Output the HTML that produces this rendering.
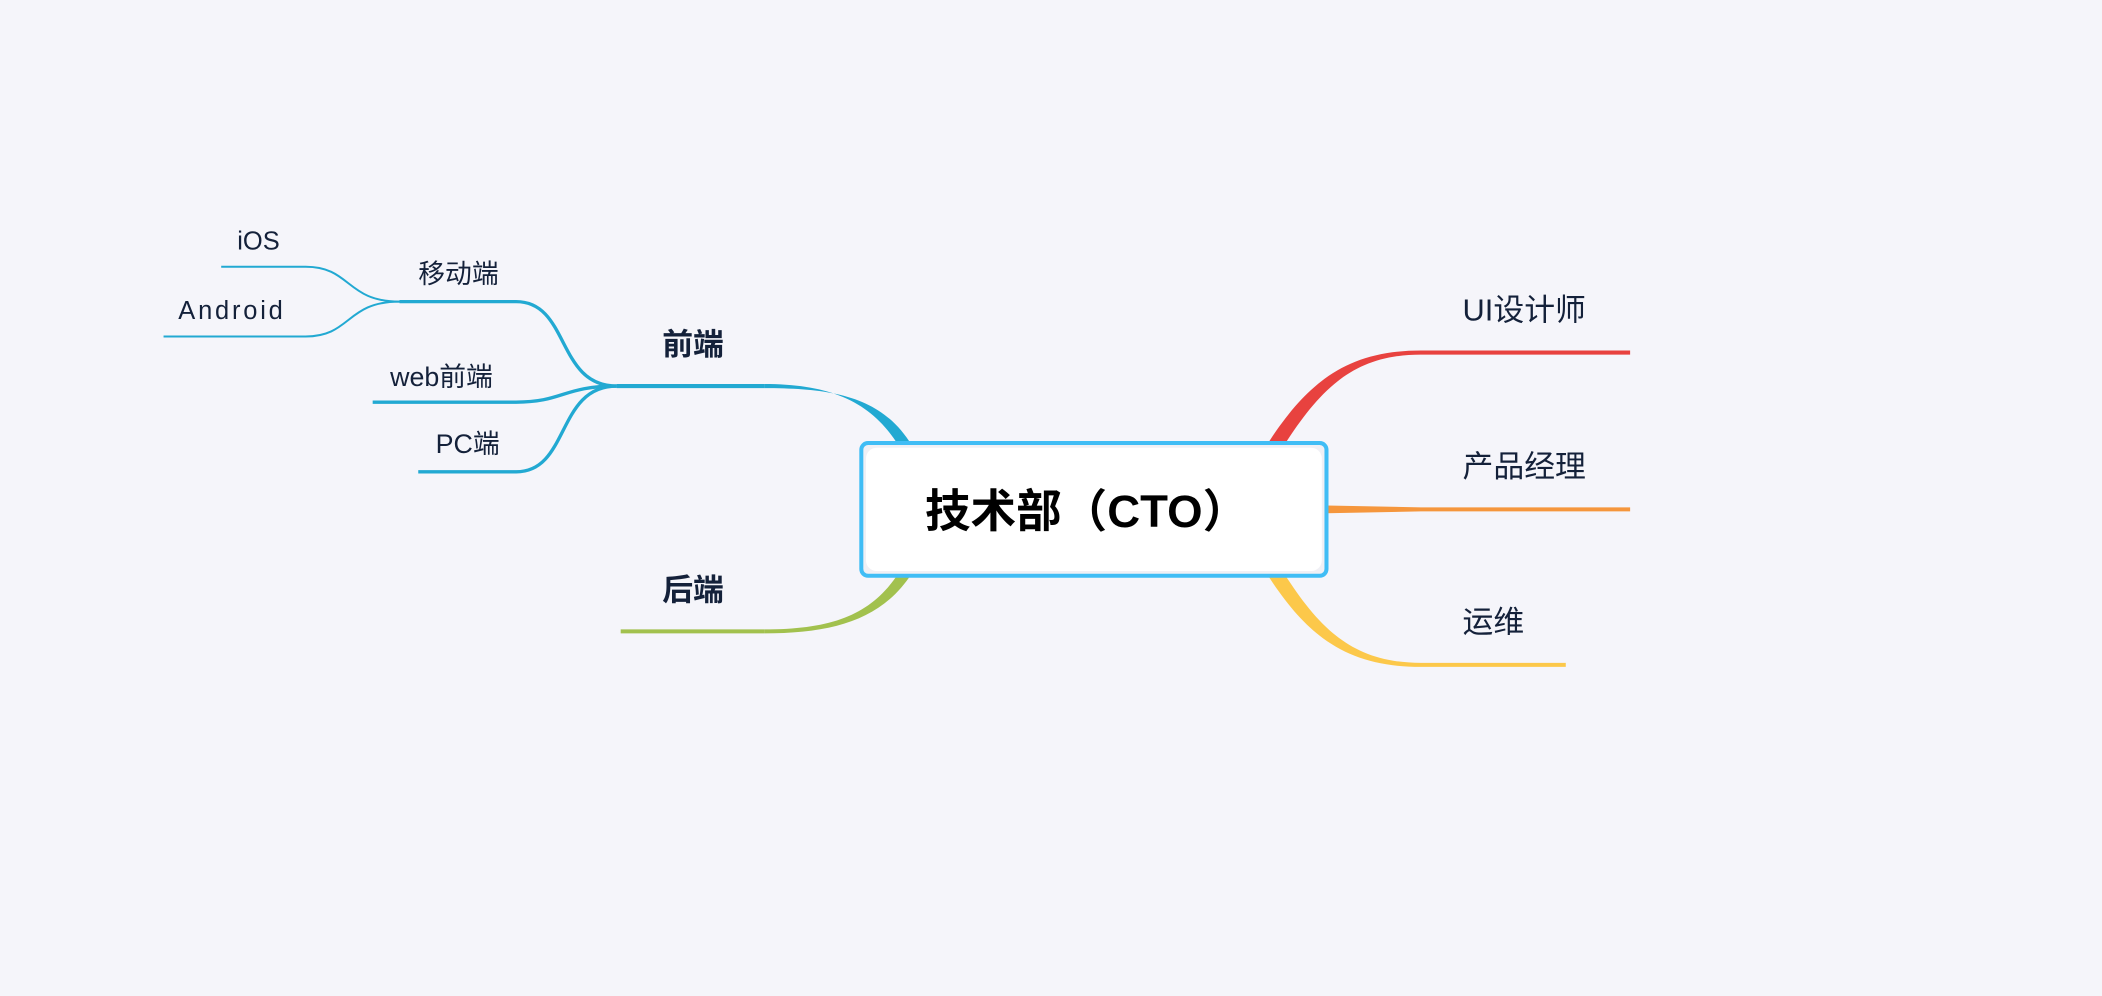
<!DOCTYPE html>
<html><head><meta charset="utf-8"><style>
html,body{margin:0;padding:0;background:#f5f5fa;}
svg{display:block;}
text{font-family:"Liberation Sans","Noto Sans CJK SC",sans-serif;fill:#14213a;}
</style></head><body>
<svg width="2102" height="996" viewBox="0 0 1568 743" preserveAspectRatio="none" xmlns="http://www.w3.org/2000/svg">
<rect width="1568" height="743" fill="#f5f5fa"/>
<g fill="none" stroke="#22a9d2" stroke-linecap="butt">
  <path d="M165,199 H228 C262,199 258,225 298,225" stroke-width="1.5"/>
  <path d="M122,251 H228 C262,251 258,225 298,225" stroke-width="1.5"/>
  <path d="M298,225 H385 C425,225 415,288 460,288" stroke-width="2.5"/>
  <path d="M278,300 H385 C420,300 420,288 460,288" stroke-width="2.5"/>
  <path d="M312,352 H385 C425,352 415,288 460,288" stroke-width="2.5"/>
  <path d="M460,288 H570" stroke-width="3"/>
</g>
<path d="M570,286.5 C620,286.5 650,300 670,332 L680,332 C658,296 622,289.5 570,289.5 Z" fill="#22a9d2"/>
<path d="M463,471 H570" stroke="#a2c14e" stroke-width="3" fill="none"/>
<path d="M570,469.5 C622,469.5 650,458 670,428 L680,428 C658,462 622,472.5 570,472.5 Z" fill="#a2c14e"/>
<path d="M1060,263 H1216" stroke="#e8423f" stroke-width="3" fill="none"/>
<path d="M1060,261.5 C1005,261.5 975,285 945,332 L958,332 C985,290 1010,264.5 1060,264.5 Z" fill="#e8423f"/>
<path d="M1060,380 H1216" stroke="#f5963c" stroke-width="3" fill="none"/>
<path d="M985,377 L1060,378.5 L1060,381.5 L985,383 Z" fill="#f5963c"/>
<path d="M1060,496 H1168" stroke="#fcc84a" stroke-width="3" fill="none"/>
<path d="M1060,497.5 C1005,497.5 975,475 945,428 L958,428 C985,470 1010,494.5 1060,494.5 Z" fill="#fcc84a"/>
<rect x="642.5" y="330.5" width="347" height="99" rx="5" fill="#f0f0f5" stroke="#40bdf5" stroke-width="3"/>
<rect x="646" y="334" width="340" height="92" rx="8" fill="#ffffff"/>
<text x="690" y="393" font-size="34" font-weight="bold" style="fill:#000">技术部（CTO）</text>
<text x="177" y="186" font-size="19">iOS</text>
<text x="133" y="238" font-size="19" textLength="78">Android</text>
<text x="312" y="211" font-size="20">移动端</text>
<text x="291" y="288" font-size="20">web前端</text>
<text x="325" y="338" font-size="20">PC端</text>
<text x="494" y="265" font-size="23" font-weight="bold">前端</text>
<text x="494" y="448" font-size="23" font-weight="bold">后端</text>
<text x="1091" y="239" font-size="23">UI设计师</text>
<text x="1091" y="356" font-size="23">产品经理</text>
<text x="1091" y="472" font-size="23">运维</text>
</svg>
</body></html>
